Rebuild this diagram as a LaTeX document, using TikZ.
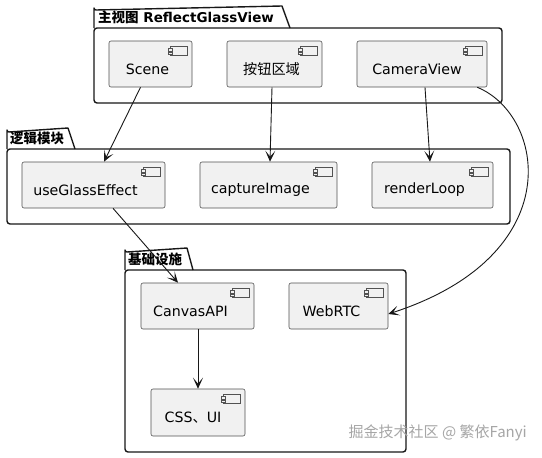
\documentclass[tikz,border=0pt]{standalone}
\usepackage{fontspec}
\setmainfont{DejaVu Sans}
\newfontfamily\cjk{Noto Sans CJK SC}
\usetikzlibrary{arrows.meta}
\definecolor{ink}{HTML}{181818}
\definecolor{compfill}{HTML}{F1F1F1}
\tikzset{
  comp/.style={draw=ink!75, line width=0.6pt, fill=compfill, rounded corners=2pt, inner sep=0pt},
  lbl/.style={font=\fontsize{14.2}{16}\selectfont, text=black, inner sep=0pt},
  ptitle/.style={font=\fontsize{13.5}{15}\selectfont\bfseries, anchor=west, inner sep=0pt},
  pkg/.style={draw=ink, line width=1.4pt, line join=round},
  conn/.style={draw=ink, line width=0.9pt, -{Stealth[length=11pt,width=10pt,inset=6pt]}},
}
\newcommand{\compicon}[1]{%
  \draw[ink!75, line width=0.5pt, fill=compfill] ([shift={(-22,6)}]#1.north east) rectangle ([shift={(-5,15)}]#1.north east);
  \draw[ink!75, line width=0.5pt, fill=compfill] ([shift={(-24,8)}]#1.north east) rectangle ([shift={(-20,10.5)}]#1.north east);
  \draw[ink!75, line width=0.5pt, fill=compfill] ([shift={(-24,11.5)}]#1.north east) rectangle ([shift={(-20,14)}]#1.north east);
}
\newcommand{\pkgshape}[8]{% left, tabtop, tabright, slantend, bodytop, right, bottom
  \draw[pkg] (#1,#5) -- (#1,#2+2) arc[start angle=180,end angle=90,radius=2] -- (#3,#2) -- (#4,#5);
  \draw[pkg, rounded corners=3pt] (#1,#5) -- (#6,#5) -- (#6,#7) -- (#1,#7) -- cycle;
}
\begin{document}
\begin{tikzpicture}[x=1pt,y=-1pt]
\useasboundingbox[fill=white] (0,0) rectangle (542,458);

% packages
\pkgshape{94}{6}{282}{290}{28}{502}{103}{}
\node[ptitle] (t1) at (98,17) {{\cjk 主视图} ReflectGlassView};
\pkgshape{7}{128}{68}{75}{149}{510}{224}{}
\node[ptitle] (t2) at (10,138) {\cjk 逻辑模块};
\pkgshape{125}{248}{187}{193}{270}{406}{452}{}
\node[ptitle] (t3) at (128,259) {\cjk 基础设施};

% components
\node[comp, minimum width=83, minimum height=46] (scene) at (150.5,64) {};
\node[lbl] (scenel) at ([shift={(-3,5)}]scene.center) {Scene};
\node[comp, minimum width=95, minimum height=46] (btn) at (274.5,64) {};
\node[lbl] (btnl) at ([shift={(-3,5)}]btn.center) {\cjk 按钮区域};
\node[comp, minimum width=130, minimum height=46] (cam) at (422,64) {};
\node[lbl] (caml) at ([shift={(-5,5)}]cam.center) {CameraView};

\node[comp, minimum width=143, minimum height=46] (glass) at (93.5,185) {};
\node[lbl] (glassl) at ([shift={(-8,5)}]glass.center) {useGlassEffect};
\node[comp, minimum width=137, minimum height=46] (cap) at (268.5,185) {};
\node[lbl] (capl) at ([shift={(-8,5)}]cap.center) {captureImage};
\node[comp, minimum width=121, minimum height=46] (rl) at (432.5,185) {};
\node[lbl] (rll) at ([shift={(-8,5)}]rl.center) {renderLoop};

\node[comp, minimum width=113, minimum height=46] (canvas) at (197.5,306) {};
\node[lbl] (canvasl) at ([shift={(-7,5)}]canvas.center) {CanvasAPI};
\node[comp, minimum width=99, minimum height=46] (webrtc) at (338.5,306) {};
\node[lbl] (webrtcl) at ([shift={(-7,5)}]webrtc.center) {WebRTC};
\node[comp, minimum width=94, minimum height=47] (css) at (198,412.5) {};
\node[lbl] (cssl) at ([shift={(-5,5)}]css.center) {CSS{\cjk 、}UI};

\foreach \n in {scene,btn,cam,glass,cap,rl,canvas,webrtc,css} {\compicon{\n}}

% connectors
\draw[conn] ([xshift=-10]scene.south) -- ([xshift=10.5]glass.north);
\draw[conn] ([xshift=-2.5]btn.south) -- ([xshift=1.5]cap.north);
\draw[conn] ([xshift=3]cam.south) -- ([xshift=-2.5]rl.north);
\draw[conn] ([xshift=-10]cam.south east) .. controls (545,115) and (570,255) .. ([yshift=-8]webrtc.east);
\draw[conn] ([xshift=19.5]glass.south) -- ([xshift=-19.5]canvas.north);
\draw[conn] ([xshift=0.5]canvas.south) -- (css.north);

% watermark
\node[font=\fontsize{15}{17}\selectfont\cjk, text=gray!70, anchor=east, inner sep=0pt] (wm) at (527,433) {掘金技术社区 @ 繁依Fanyi};
\end{tikzpicture}
\end{document}
